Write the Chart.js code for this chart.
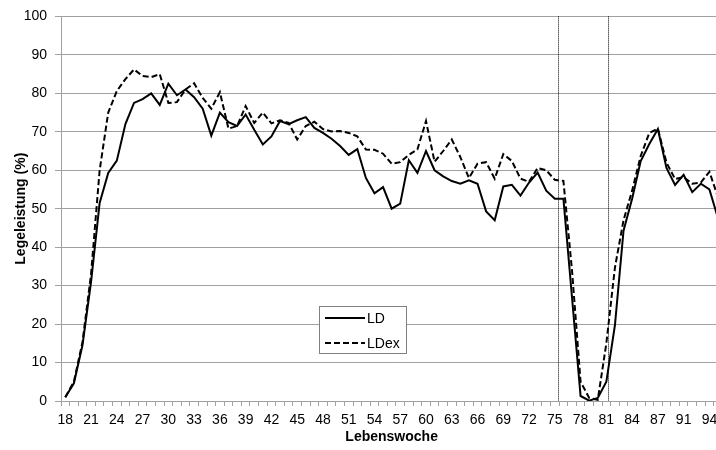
<!DOCTYPE html>
<html>
<head>
<meta charset="utf-8">
<script src="https://cdn.jsdelivr.net/npm/chart.js@4.4.1/dist/chart.umd.min.js"></script>
<style>
  html, body { margin: 0; padding: 0; background: #fff; overflow: hidden; }
  #wrap { width: 724px; height: 450px; }
</style>
</head>
<body>
<div id="wrap"><canvas id="chart" width="724" height="450"></canvas></div>
<script>
// Lebenswoche (one week missing between 87 and 91, chart is cut off after 94)
const weeks = [
  18, 19, 20, 21, 22, 23, 24, 25, 26, 27, 28, 29, 30, 31, 32, 33, 34, 35, 36, 37,
  38, 39, 40, 41, 42, 43, 44, 45, 46, 47, 48, 49, 50, 51, 52, 53, 54, 55, 56, 57,
  58, 59, 60, 61, 62, 63, 64, 65, 66, 67, 68, 69, 70, 71, 72, 73, 74, 75, 76, 77,
  78, 79, 80, 81, 82, 83, 84, 85, 86, 87, 88, 90, 91, 92, 93, 94, 95
];

// Legeleistung (%)
const ldValues = [
  1, 4.6, 14.5, 31, 51.5, 59.3, 62.5, 72, 77.5, 78.5, 80, 77, 82.5, 79.5, 81, 79, 76, 69, 75, 72.5,
  71.5, 74.5, 70.5, 66.7, 68.8, 72.8, 72, 73, 73.8, 71, 69.7, 68.2, 66.3, 64, 65.5, 58, 54, 55.6, 50, 51.3,
  62.6, 59.3, 65, 60, 58.4, 57.2, 56.5, 57.4, 56.5, 49.3, 47, 55.8, 56.2, 53.4, 56.8, 59.4, 54.7, 52.6, 52.6, 27,
  1.3, 0.1, 0.8, 5, 19.7, 44.3, 52.6, 62.4, 66.8, 70.7, 60.6, 56.2, 58.8, 54.3, 56.5, 55, 47.5
];

const ldexValues = [
  1, 5, 15.3, 33, 60, 75, 80.6, 83.7, 86.2, 84.5, 84.2, 85, 77.5, 77.7, 81, 82.6, 78.8, 76, 80.3, 70.8,
  71.5, 76.7, 72.3, 75, 72.2, 73, 72.3, 68, 71.5, 72.6, 70.7, 70.1, 70.2, 69.7, 68.8, 65.4, 65.3, 64.3, 61.7, 62.1,
  64, 65.4, 72.8, 62.2, 65, 68, 63.4, 58, 61.7, 62.1, 57.8, 64.2, 62.4, 57.8, 57, 60.6, 60, 57.5, 57.2, 34,
  5, 0.8, 0.3, 15, 34.7, 47, 54.7, 63.7, 69.7, 70.8, 62, 57.7, 58.2, 56.5, 56.8, 59.6, 53
];

const yTicks = [0, 10, 20, 30, 40, 50, 60, 70, 80, 90, 100];

// dotted vertical markers (week positions)
const markerWeeks = [75.4, 81.2];

const FONT = "'Liberation Sans', Arial, sans-serif";
const GRID = "#a0a0a0";

// vertical dotted lines through the plot
const markerLines = {
  id: "markerLines",
  beforeDatasetsDraw(chart) {
    const { ctx, chartArea, scales } = chart;
    ctx.save();
    ctx.strokeStyle = "#000";
    ctx.lineWidth = 1;
    ctx.setLineDash([1, 1]);
    markerWeeks.forEach((w) => {
      const base = Math.floor(w);
      const idx = weeks.indexOf(base) + (w - base);
      const x = Math.round(scales.x.getPixelForValue(idx)) + 0.5;
      ctx.beginPath();
      ctx.moveTo(x, chartArea.top);
      ctx.lineTo(x, chartArea.bottom);
      ctx.stroke();
    });
    ctx.restore();
  },
};

// boxed legend inside the plot
const boxLegend = {
  id: "boxLegend",
  afterDraw(chart) {
    const { ctx } = chart;
    const left = 319, top = 306, w = 87, h = 47;
    ctx.save();
    ctx.fillStyle = "#fff";
    ctx.fillRect(left, top, w, h);
    ctx.strokeStyle = "#808080";
    ctx.lineWidth = 1;
    ctx.strokeRect(left + 0.5, top + 0.5, w, h);
    ctx.font = "14px " + FONT;
    ctx.textBaseline = "middle";
    ctx.fillStyle = "#000";
    chart.data.datasets.forEach((ds, i) => {
      const y = top + 12 + i * 25;
      ctx.strokeStyle = ds.borderColor;
      ctx.lineWidth = ds.borderWidth;
      ctx.setLineDash(ds.borderDash || []);
      ctx.beginPath();
      ctx.moveTo(left + 6, y);
      ctx.lineTo(left + 46, y);
      ctx.stroke();
      ctx.fillText(ds.label, left + 48, y + 1);
    });
    ctx.restore();
  },
};

new Chart(document.getElementById("chart"), {
  type: "line",
  data: {
    labels: weeks,
    datasets: [
      {
        label: "LD",
        data: ldValues,
        borderColor: "#000",
        borderWidth: 2,
        pointRadius: 0,
        tension: 0,
        fill: false,
      },
      {
        label: "LDex",
        data: ldexValues,
        borderColor: "#000",
        borderWidth: 2,
        borderDash: [6, 3],
        pointRadius: 0,
        tension: 0,
        fill: false,
      },
    ],
  },
  options: {
    responsive: false,
    animation: false,
    layout: { padding: { top: 15, right: 0, left: 0, bottom: 0 } },
    plugins: {
      legend: { display: false },
      tooltip: { enabled: false },
    },
    scales: {
      x: {
        type: "category",
        offset: true,
        afterFit: (s) => { s.height = 49; },
        grid: {
          offset: true,
          drawOnChartArea: false,
          drawTicks: true,
          tickLength: 5,
          color: GRID,
        },
        border: { color: GRID },
        ticks: {
          autoSkip: false,
          maxRotation: 0,
          padding: 6,
          color: "#000",
          font: { family: FONT, size: 14 },
          callback: function (val, i) {
            return i % 3 === 0 ? this.getLabelForValue(val) : "";
          },
        },
        title: {
          display: true,
          text: "Lebenswoche",
          color: "#000",
          font: { family: FONT, size: 14, weight: "bold" },
          padding: { top: 0, bottom: 4 },
        },
      },
      y: {
        min: yTicks[0],
        max: yTicks[yTicks.length - 1],
        afterFit: (s) => { s.width = 61; },
        afterBuildTicks: (s) => { s.ticks = yTicks.map((v) => ({ value: v })); },
        grid: { color: GRID, tickLength: 6 },
        border: { color: GRID },
        ticks: {
          padding: 8,
          color: "#000",
          font: { family: FONT, size: 14 },
        },
        title: {
          display: true,
          text: "Legeleistung (%)",
          color: "#000",
          font: { family: FONT, size: 14, weight: "bold" },
          padding: { top: 13, bottom: 0 },
        },
      },
    },
  },
  plugins: [markerLines, boxLegend],
});
</script>
</body>
</html>
